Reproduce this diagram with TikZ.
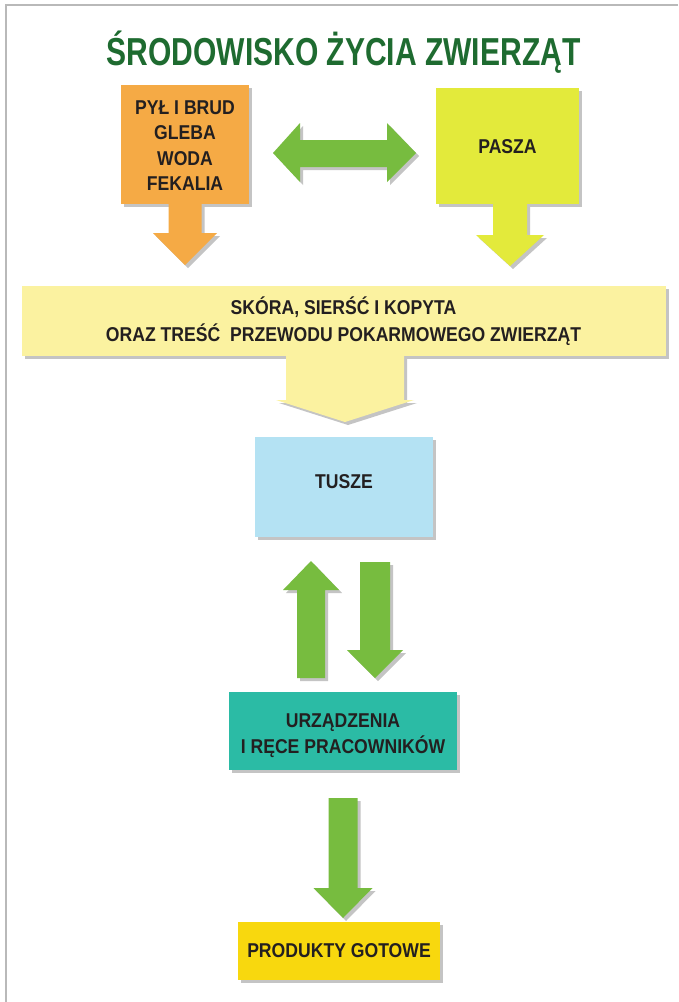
\documentclass[tikz,border=0pt]{standalone}
\usepackage{fontspec}
\newfontfamily\bodyf[FakeStretch=0.88]{Liberation Sans Bold}
\newfontfamily\titlef[FakeStretch=0.77]{Liberation Sans Bold}
\definecolor{titlegreen}{HTML}{1E6B30}
\definecolor{textc}{HTML}{231F20}
\definecolor{orangec}{HTML}{F5AA45}
\definecolor{paszac}{HTML}{E3EA3B}
\definecolor{arrowgreen}{HTML}{77BC3F}
\definecolor{bannerc}{HTML}{FBF2A0}
\definecolor{tuszec}{HTML}{B4E2F3}
\definecolor{tealc}{HTML}{2BBBA5}
\definecolor{prodc}{HTML}{F8D80E}
\definecolor{shadowc}{HTML}{C4C4C4}
% x centre, base y, head-base y, tip y, half shaft, half head, style
\newcommand\blockarrowv[7]{\fill[#7] (#1-#5,#2) -- (#1+#5,#2) -- (#1+#5,#3) -- (#1+#6,#3) -- (#1,#4) -- (#1-#6,#3) -- (#1-#5,#3) -- cycle;}
\tikzset{
  box/.style={rectangle, inner sep=0pt, draw=none},
  lbl/.style={font=\bodyf\fontsize{20}{25.5}\selectfont, text=textc, align=center, inner sep=0pt},
  shad/.style={fill=shadowc, shift={(3,3)}},
}
\begin{document}
\begin{tikzpicture}[x=1pt,y=-1pt]
\useasboundingbox (0,0) rectangle (678,1002);
\fill[white] (0,0) rectangle (678,1002);
\draw[gray!55, line width=1.2] (6,1002) -- (6,5) -- (678,5);

% title
\node[font=\titlef\fontsize{39}{44}\selectfont, text=titlegreen, anchor=base, inner sep=0pt] (title) at (343.5,65) {ŚRODOWISKO ŻYCIA ZWIERZĄT};

% ---------- shadows ----------
\fill[shad] (121,85) rectangle (249,204);
\blockarrowv{185}{204}{233}{265}{16.5}{32}{shad}
\fill[shad] (436,88) rectangle (579,204);
\blockarrowv{510}{204}{235}{266}{17}{34}{shad}
\fill[shad] (273,153) -- (300,123) -- (300,140) -- (387,140) -- (387,123) -- (416,153) -- (387,182) -- (387,167) -- (300,167) -- (300,182) -- cycle;
\fill[shad] (22,286) rectangle (666,356);
\blockarrowv{345}{356}{400}{422}{59}{69}{shad}
\fill[shad] (255,437) rectangle (433,537);
\blockarrowv{311}{678}{590}{561}{14}{28}{shad}
\blockarrowv{375}{562}{650}{678}{15}{28}{shad}
\fill[shad] (229,692) rectangle (457,770);
\blockarrowv{343}{798}{888}{918}{14.5}{29.5}{shad}
\fill[shad] (238,922) rectangle (440,980);

% ---------- shapes ----------
\node[box, fill=orangec, minimum width=128, minimum height=119] (zrodla) at (185,144.5) {};
\blockarrowv{185}{203}{233}{265}{16.5}{32}{fill=orangec}
\node[lbl] at (185,145.5) {PYŁ I BRUD\\GLEBA\\WODA\\FEKALIA};

\node[box, fill=paszac, minimum width=143, minimum height=116] (pasza) at (507.5,146) {};
\blockarrowv{510}{203}{235}{266}{17}{34}{fill=paszac}
\node[lbl] at (507.5,147) {PASZA};

\fill[arrowgreen] (273,153) -- (300,123) -- (300,140) -- (387,140) -- (387,123) -- (416,153) -- (387,182) -- (387,167) -- (300,167) -- (300,182) -- cycle;

\node[box, fill=bannerc, minimum width=644, minimum height=70] (skora) at (344,321) {};
\blockarrowv{345}{355}{400}{422}{59}{69}{fill=bannerc}
\node[lbl] at (343.5,321) {SKÓRA, SIERŚĆ I KOPYTA\\[1pt]ORAZ TREŚĆ\ \ PRZEWODU POKARMOWEGO ZWIERZĄT};

\node[box, fill=tuszec, minimum width=178, minimum height=100] (tusze) at (344,487) {};
\node[lbl] at (344,482) {TUSZE};

\blockarrowv{311}{678}{590}{561}{14}{28}{fill=arrowgreen}
\blockarrowv{375}{562}{650}{678}{15}{28}{fill=arrowgreen}

\node[box, fill=tealc, minimum width=228, minimum height=78] (urzadzenia) at (343,731) {};
\node[lbl] at (343,735.5) {URZĄDZENIA\\I RĘCE PRACOWNIKÓW};

\blockarrowv{343}{798}{888}{918}{14.5}{29.5}{fill=arrowgreen}

\node[box, fill=prodc, minimum width=202, minimum height=58] (produkty) at (339,951) {};
\node[lbl] at (339,951) {PRODUKTY GOTOWE};
\end{tikzpicture}
\end{document}
